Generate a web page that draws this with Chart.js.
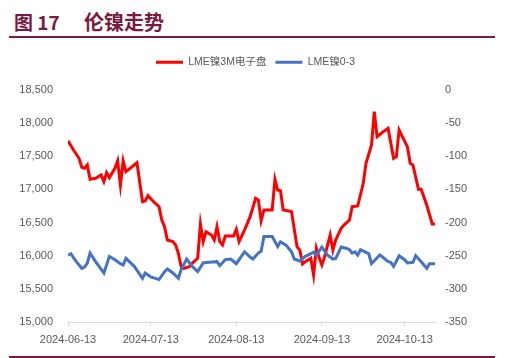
<!DOCTYPE html>
<html><head><meta charset="utf-8">
<script src="https://cdn.jsdelivr.net/npm/chart.js@4.4.1/dist/chart.umd.min.js"></script>
<style>
html,body{margin:0;padding:0;background:#fff;}
#wrap{position:relative;width:511px;height:358px;overflow:hidden;}
#t1{position:absolute;left:14px;top:9px;font:bold 19px "Noto Sans CJK SC","Liberation Sans",sans-serif;color:#7b1a40;white-space:pre;line-height:26px;}
#t2{position:absolute;left:84px;top:9px;font:bold 20px "Noto Sans CJK SC",sans-serif;color:#7b1a40;line-height:26px;}
#tline{position:absolute;left:9px;top:36px;width:486px;height:2px;background:#7b1a40;}
#bline{position:absolute;left:9px;top:356px;width:486px;height:2px;background:#7b1a40;}
canvas{position:absolute;left:0;top:0;}
</style></head>
<body><div id="wrap">
<div id="t1">图 17</div><div id="t2">伦镍走势</div>
<div id="tline"></div>
<canvas id="c" width="511" height="358"></canvas>
<div id="bline"></div>
</div>
<script>
// days since 2024-06-13
const startDate = '2024-06-13';
const tickLabels = ['2024-06-13','2024-07-13','2024-08-13','2024-09-13','2024-10-13'];
const seriesNames = ['LME镍3M电子盘','LME镍0-3'];

const redDays = [0,2,4,5,6,7,8,10,12,13,14,15,17,18,19,20,21,23,25,27,28,29,31,33,34,35,36,38,39,40,41,42,44,45,47,48,49,50,52,53,54,55,56,57,60,61,62,64,66,68,69,70,71,74,75,76,77,78,80,81,83,84,85,86,88,89,90,91,92,93,95,96,97,99,100,102,103,105,107,108,110,111,112,114,116,118,119,120,123,124,125,127,128,130,132,133];
const redValues = [17735,17595,17470,17334,17319,17369,17153,17168,17218,17117,17253,17177,17319,17433,17067,17433,17268,17334,17403,16815,16826,16906,16815,16740,16539,16438,16237,16212,16162,16036,15835,15810,15835,15885,15961,16478,16212,16362,16312,16237,16438,16212,16162,16297,16297,16400,16212,16388,16589,16866,16840,16528,16690,16690,17153,16991,16981,16690,16675,16665,16137,16086,15875,15910,15961,15709,16112,15976,15860,15986,16312,16086,16237,16414,16463,16539,16740,16750,17092,17394,17670,18173,17795,17862,17922,17470,17494,17897,17645,17394,17369,17002,17002,16765,16478,16478];

const blueDays = [0,1,3,5,6,7,8,10,13,15,17,19,20,21,24,27,28,30,33,35,36,38,40,41,43,45,47,49,51,54,55,57,59,61,64,66,67,69,70,71,74,76,77,79,81,82,84,86,89,90,92,94,96,97,99,101,102,103,104,105,106,108,109,110,113,114,116,117,118,120,122,123,125,126,128,130,131,133];
const blueValues = [-249,-247,-259,-269,-267,-261,-246,-259,-276,-251,-256,-262,-264,-254,-266,-284,-276,-282,-286,-274,-270,-276,-284,-271,-255,-266,-274,-261,-260,-259,-265,-256,-255,-262,-244,-252,-255,-246,-243,-221,-221,-236,-229,-234,-244,-255,-258,-251,-245,-249,-237,-249,-255,-254,-237,-239,-241,-246,-244,-249,-241,-245,-247,-262,-249,-252,-259,-260,-266,-250,-256,-261,-260,-250,-259,-269,-262,-262];

const leftTicks = {min:15000, max:18500, step:500};
const rightTicks = {min:-350, max:0, step:50};

const dayMs = 86400000;
const base = Date.parse(startDate);
const tickDays = tickLabels.map(s => Math.round((Date.parse(s) - base) / dayMs));
const toLabel = d => { const i = tickDays.indexOf(Math.round(d)); return i >= 0 ? tickLabels[i] : ''; };

const FONT = '"Liberation Sans","Noto Sans CJK SC",sans-serif';
const TXT = '#595959';

const legendPatch = {
  id:'legendPatch',
  beforeLayout(chart){
    const lg = chart.legend;
    if (lg && !lg._patched){
      const f = lg.fit;
      lg.fit = function(){ f.call(this); this.height += 12.5; };
      lg._patched = true;
    }
  }
};

new Chart(document.getElementById('c'), {
  type:'line',
  data:{
    datasets:[
      {label:seriesNames[0], data:redDays.map((d,i)=>({x:d,y:redValues[i]})), borderColor:'#ff0000', backgroundColor:'#ff0000', borderWidth:3, pointRadius:0, yAxisID:'y', order:1, tension:0},
      {label:seriesNames[1], data:blueDays.map((d,i)=>({x:d,y:blueValues[i]})), borderColor:'#4472c4', backgroundColor:'#4472c4', borderWidth:3, pointRadius:0, yAxisID:'y1', order:0, tension:0}
    ]
  },
  options:{
    responsive:false, animation:false,
    layout:{padding:{top:48,left:0,right:0,bottom:0}},
    plugins:{
      tooltip:{enabled:false},
      legend:{
        position:'top',
        labels:{usePointStyle:true, pointStyle:'line', pointStyleWidth:27, padding:9, color:TXT, font:{family:FONT,size:10.5},
          sort:(a,b)=>a.datasetIndex-b.datasetIndex}
      }
    },
    scales:{
      x:{type:'linear', min:0, max:133,
        afterBuildTicks:s=>{ s.ticks = tickDays.map(v=>({value:v})); },
        afterFit:s=>{ s.height = 36; },
        grid:{display:true, drawOnChartArea:false, drawTicks:true, tickLength:4, color:'#d9d9d9'},
        border:{display:true, color:'#d9d9d9', width:1},
        ticks:{callback:v=>toLabel(v), color:TXT, font:{family:FONT,size:11}, maxRotation:0, autoSkip:false, padding:7}
      },
      y:{position:'left', min:leftTicks.min, max:leftTicks.max,
        afterFit:s=>{ s.width = 68; },
        grid:{display:false, drawTicks:false}, border:{display:false},
        ticks:{stepSize:leftTicks.step, color:TXT, font:{family:FONT,size:11}, padding:15,
          callback:v=>v.toLocaleString('en-US')}
      },
      y1:{position:'right', min:rightTicks.min, max:rightTicks.max,
        afterFit:s=>{ s.width = 76; },
        grid:{display:false, drawTicks:false}, border:{display:false},
        ticks:{stepSize:rightTicks.step, color:TXT, font:{family:FONT,size:11}, padding:10}
      }
    }
  },
  plugins:[legendPatch]
});
</script>
</body></html>
